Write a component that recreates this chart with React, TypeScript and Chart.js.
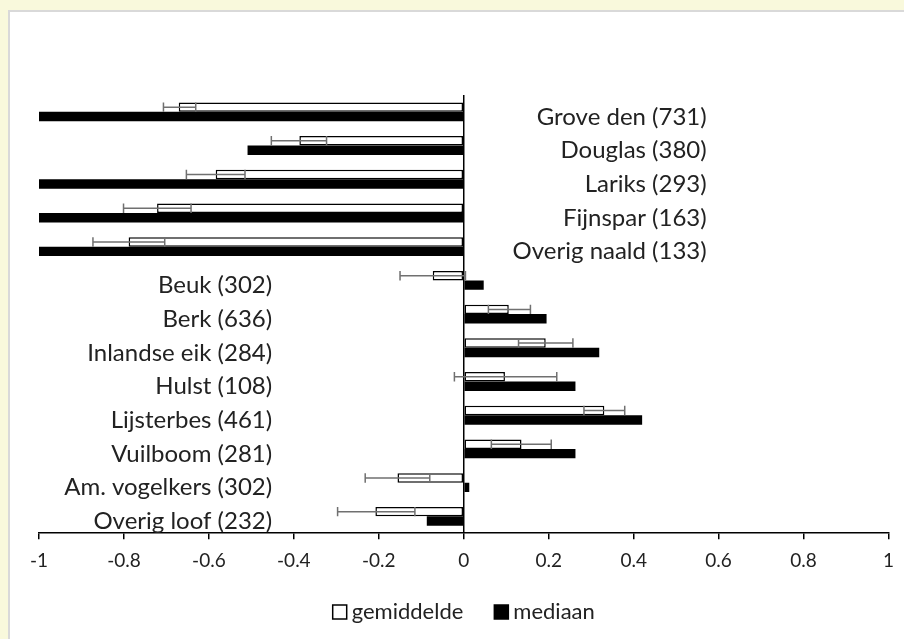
import React, { useEffect, useRef } from "react";
import { Chart, registerables } from "chart.js";

Chart.register(...registerables);

const categories = [
  "Grove den (731)",
  "Douglas (380)",
  "Lariks (293)",
  "Fijnspar (163)",
  "Overig naald (133)",
  "Beuk (302)",
  "Berk (636)",
  "Inlandse eik (284)",
  "Hulst (108)",
  "Lijsterbes (461)",
  "Vuilboom (281)",
  "Am. vogelkers (302)",
  "Overig loof (232)",
];
const groups = ["naald", "naald", "naald", "naald", "naald", "loof", "loof", "loof", "loof", "loof", "loof", "loof", "loof"];
const gemiddelde = [-0.671, -0.387, -0.584, -0.722, -0.789, -0.073, 0.106, 0.193, 0.097, 0.331, 0.136, -0.156, -0.208];
const errLow = [-0.707, -0.453, -0.653, -0.801, -0.873, -0.15, 0.058, 0.129, -0.022, 0.283, 0.065, -0.232, -0.297];
const errHigh = [-0.631, -0.323, -0.515, -0.642, -0.704, 0.004, 0.157, 0.257, 0.219, 0.379, 0.206, -0.08, -0.115];
const mediaan = [-1, -0.509, -1, -1, -1, 0.047, 0.195, 0.319, 0.263, 0.42, 0.263, 0.013, -0.087];
const xTicks = [-1, -0.8, -0.6, -0.4, -0.2, 0, 0.2, 0.4, 0.6, 0.8, 1];
const labelAnchor = { naald: 0.572, loof: -0.451 };
const legendLabels = ["gemiddelde", "mediaan"];

const FONT = "Lato, 'Open Sans', sans-serif";

export default function App() {
  const ref = useRef<HTMLCanvasElement | null>(null);

  useEffect(() => {
    const canvas = ref.current;
    if (!canvas) return;

    const overlay = {
      id: "overlay",
      afterDatasetsDraw(chart: any) {
        const ctx = chart.ctx;
        const xs = chart.scales.x;
        const ys = chart.scales.y;
        const area = chart.chartArea;
        ctx.save();
        ctx.strokeStyle = "#000";
        ctx.lineWidth = 1.5;
        const x0 = xs.getPixelForValue(0);
        ctx.beginPath();
        ctx.moveTo(x0, area.top);
        ctx.lineTo(x0, area.bottom);
        ctx.stroke();
        const meta = chart.getDatasetMeta(0);
        ctx.strokeStyle = "#707070";
        ctx.lineWidth = 1.5;
        meta.data.forEach((bar: any, i: number) => {
          const y = bar.y;
          const h = bar.height / 2;
          const a = xs.getPixelForValue(errLow[i]);
          const b = xs.getPixelForValue(errHigh[i]);
          ctx.beginPath();
          ctx.moveTo(a, y);
          ctx.lineTo(b, y);
          ctx.moveTo(a, y - h);
          ctx.lineTo(a, y + h);
          ctx.moveTo(b, y - h);
          ctx.lineTo(b, y + h);
          ctx.stroke();
        });
        ctx.fillStyle = "#222";
        ctx.font = "24px " + FONT;
        ctx.textAlign = "right";
        ctx.textBaseline = "middle";
        categories.forEach((c, i) => {
          const x = xs.getPixelForValue((labelAnchor as any)[groups[i]]);
          const y = ys.getPixelForValue(i) + 5;
          ctx.fillText(c, x, y);
        });

        // legend
        ctx.font = "22px " + FONT;
        ctx.textAlign = "left";
        const box = 14;
        const gap = 5;
        const itemGap = 31;
        const widths = legendLabels.map((t) => ctx.measureText(t).width);
        const total = widths.reduce((s, w) => s + box + gap + w, 0) + itemGap * (legendLabels.length - 1);
        let lx = (area.left + area.right) / 2 - total / 2;
        const ly = 612;
        const ds = chart.data.datasets;
        legendLabels.forEach((t, i) => {
          ctx.fillStyle = ds[i].backgroundColor;
          ctx.fillRect(lx, ly - box / 2, box, box);
          ctx.strokeStyle = "#000";
          ctx.lineWidth = 1.5;
          ctx.strokeRect(lx, ly - box / 2, box, box);
          ctx.fillStyle = "#222";
          ctx.fillText(t, lx + box + gap, ly);
          lx += box + gap + widths[i] + itemGap;
        });
        ctx.restore();
      },
    };

    const chart = new Chart(canvas, {
      type: "bar",
      data: {
        labels: categories,
        datasets: [
          {
            label: "gemiddelde",
            data: gemiddelde,
            backgroundColor: "#ffffff",
            borderColor: "#000000",
            borderWidth: 1.5,
            borderSkipped: false,
            categoryPercentage: 0.56,
            barPercentage: 1,
          },
          {
            label: "mediaan",
            data: mediaan,
            backgroundColor: "#000000",
            borderColor: "#000000",
            borderWidth: 0,
            categoryPercentage: 0.56,
            barPercentage: 1,
          },
        ],
      },
      options: {
        indexAxis: "y",
        animation: false,
        responsive: false,
        devicePixelRatio: 1,
        layout: { padding: { top: 95, left: 39, right: 10, bottom: 57 } },
        scales: {
          x: {
            min: -1,
            max: 1,
            afterBuildTicks(scale: any) {
              scale.ticks = xTicks.map((v) => ({ value: v }));
            },
            grid: {
              drawOnChartArea: false,
              drawTicks: true,
              tickLength: 6,
              color: "#000",
              lineWidth: 1.5,
            },
            border: { display: true, color: "#000", width: 1.5 },
            ticks: {
              color: "#222",
              padding: 10,
              font: { family: FONT, size: 19 },
              callback: (v: any) => String(Math.round(Number(v) * 10) / 10),
            },
          },
          y: {
            display: false,
          },
        },
        plugins: {
          legend: { display: false },
          tooltip: { enabled: false },
        },
      },
      plugins: [overlay],
    } as any);

    return () => chart.destroy();
  }, []);

  return (
    <div style={{ position: "fixed", inset: 0, background: "#f9f9dc", overflow: "hidden" }}>
      <div
        style={{
          position: "absolute",
          left: 8,
          top: 10,
          width: 1000,
          height: 700,
          background: "#ffffff",
          borderLeft: "2px solid #d9d9d9",
          borderTop: "2px solid #d9d9d9",
        }}
      />
      <canvas
        ref={ref}
        width={904}
        height={639}
        style={{ position: "absolute", left: 0, top: 0, width: 904, height: 639 }}
      />
    </div>
  );
}
